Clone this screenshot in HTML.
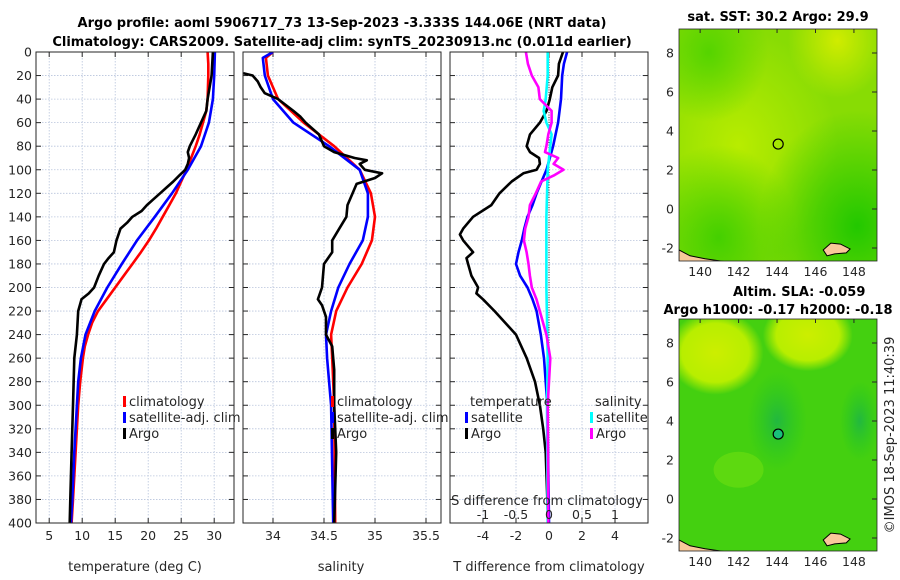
<!DOCTYPE html>
<html><head><meta charset="utf-8">
<style>
html,body{margin:0;padding:0;background:#fff;}
svg{display:block;font-family:"DejaVu Sans","Liberation Sans",sans-serif;}
.tick{font-size:12.5px;fill:#262626;}
.lbl{font-size:13px;fill:#262626;}
.ttl{font-size:13px;font-weight:bold;fill:#000;}
</style></head>
<body>
<svg id="fig" width="900" height="580" viewBox="0 0 900 580">
<text class="ttl" x="342" y="27" text-anchor="middle">Argo profile: aoml 5906717_73 13-Sep-2023 -3.333S 144.06E (NRT data)</text>
<text class="ttl" x="342" y="46" text-anchor="middle">Climatology: CARS2009. Satellite-adj clim: synTS_20230913.nc (0.011d earlier)</text>
<g id="layer"></g>
<text class="ttl" x="778" y="21" text-anchor="middle">sat. SST: 30.2 Argo: 29.9</text>
<text class="ttl" x="733" y="296" text-anchor="start">Altim. SLA: -0.059</text>
<text class="ttl" x="778" y="314" text-anchor="middle">Argo h1000: -0.17 h2000: -0.18</text>
<text class="lbl" x="0" y="0" transform="translate(894,435) rotate(-90)" text-anchor="middle">©IMOS 18-Sep-2023 11:40:39</text>
</svg>
<script>
// ---- data (depth in m) ----
const tempClimDepth = [0,10,20,40,50,60,70,80,90,100,110,120,130,140,150,160,170,180,190,200,210,220,230,240,250,260,280,300,320,340,360,380,400];
const tempClim      = [29,29.1,29.1,29,28.8,28.3,27.8,27.2,26.5,25.8,25.0,24.2,23.2,22.2,21.2,20.1,18.9,17.6,16.3,15.0,13.7,12.4,11.5,10.9,10.4,10.1,9.7,9.4,9.2,9.0,8.8,8.6,8.4];
const tempSatDepth  = [0,20,40,60,80,100,120,140,160,180,200,220,240,260,280,300,340,380,400];
const tempSat       = [30.1,30,29.8,29.2,28,26,23.6,21,18.3,16,13.8,11.9,10.5,9.8,9.4,9.2,8.8,8.5,8.3];
const tempArgoDepth = [0,20,30,40,50,60,70,80,85,90,95,100,105,110,115,120,125,130,135,140,145,150,160,170,175,180,190,200,205,210,220,240,260,300,340,380,400];
const tempArgo      = [29.8,29.6,29.3,29,28.8,28,27.2,26.3,26.0,26.2,26.0,25.6,24.7,23.8,22.8,21.8,20.8,19.8,19.0,17.6,16.8,15.8,15.2,14.8,14.0,13.3,12.5,11.8,11.0,9.9,9.4,9.2,8.8,8.6,8.4,8.2,8.1];
const salClimDepth  = [0,5,20,40,60,80,100,120,140,160,180,200,220,240,260,300,400];
const salClim       = [34.0,33.93,33.95,34.05,34.3,34.6,34.85,34.96,35.0,34.97,34.87,34.73,34.62,34.57,34.58,34.6,34.61];
const salSatDepth   = [0,5,20,40,60,80,100,120,140,160,180,200,220,240,260,300,400];
const salSat        = [34.0,33.9,33.92,34.0,34.2,34.55,34.85,34.93,34.93,34.88,34.75,34.64,34.57,34.52,34.53,34.57,34.59];
const salArgoDepth  = [18,20,25,30,35,40,50,55,60,70,80,85,90,92,95,100,103,107,112,120,130,140,150,160,170,180,200,210,215,225,240,250,270,300,340,400];
const salArgo       = [33.71,33.8,33.85,33.88,33.92,34.05,34.2,34.27,34.32,34.45,34.5,34.6,34.8,34.92,34.85,34.9,35.07,35.0,34.82,34.78,34.73,34.72,34.65,34.58,34.58,34.5,34.48,34.44,34.48,34.52,34.52,34.58,34.6,34.6,34.62,34.6];
const tdSatDepth    = [0,10,20,40,60,80,100,120,130,140,150,160,170,180,190,200,210,220,240,260,280,300,400];
const tdSat         = [1.1,0.9,0.8,0.73,0.55,0.25,-0.15,-0.75,-1.0,-1.3,-1.5,-1.65,-1.85,-2.0,-1.75,-1.3,-1.0,-0.75,-0.5,-0.3,-0.2,-0.1,0];
const tdArgoDepth   = [0,10,20,30,40,50,60,70,80,85,90,95,100,103,110,120,130,140,150,155,160,170,175,180,190,200,205,210,220,240,260,280,300,320,340,360,400];
const tdArgo        = [0.85,0.6,0.55,0.2,0.05,-0.15,-0.55,-1.15,-1.35,-1.15,-0.6,-0.55,-0.75,-1.55,-2.26,-3.0,-3.5,-4.6,-5.2,-5.4,-5.2,-4.6,-5.0,-4.9,-4.7,-4.3,-4.4,-4.0,-3.3,-2.0,-1.35,-0.85,-0.55,-0.35,-0.2,-0.15,-0.05];
const sdArgoDepth   = [0,10,20,30,40,50,60,70,80,85,90,95,100,105,110,120,130,140,150,160,170,180,190,200,210,220,240,260,280,300,400];
const sdArgo        = [-0.35,-0.32,-0.26,-0.16,-0.14,0.04,0.04,-0.01,-0.04,-0.06,0.14,0.07,0.22,0.07,-0.12,-0.2,-0.29,-0.31,-0.36,-0.38,-0.34,-0.31,-0.29,-0.26,-0.19,-0.14,-0.04,0.02,0,-0.02,-0.01];
const sdSatDepth    = [0,20,40,50,60,70,80,100,140,200,260,300,400];
const sdSat         = [-0.02,-0.02,-0.05,-0.08,-0.04,0.04,0.02,-0.02,-0.04,-0.04,-0.02,-0.03,-0.02];
const depthTicks = [0,20,40,60,80,100,120,140,160,180,200,220,240,260,280,300,320,340,360,380,400];
const tempTicks = [5,10,15,20,25,30];
const salTicks = [34,34.5,35,35.5];
const tdTicks = [-4,-2,0,2,4];
const sdTicks = [-1,-0.5,0,0.5,1];
const latTicks = [-2,0,2,4,6,8];
const lonTicks = [140,142,144,146,148];

const NS='http://www.w3.org/2000/svg';
const layer=document.getElementById('layer');
function mk(tag,attrs,parent){const e=document.createElementNS(NS,tag);for(const k in attrs)e.setAttribute(k,attrs[k]);(parent||layer).appendChild(e);return e;}
const Y0=52,Y1=523;
const yD=d=>Y0+(d/400)*(Y1-Y0);
function lin(d0,d1,r0,r1){return v=>r0+(v-d0)/(d1-d0)*(r1-r0);}

function panel(name,x0,x1,xs,ticks,fmt,showY){
  const g=mk('g',{});
  
  
  const cp=mk('clipPath',{id:'clip-'+name},g);
  mk('rect',{x:x0,y:Y0,width:x1-x0,height:Y1-Y0},cp);
  depthTicks.forEach(d=>{
    const l=mk('line',{x1:x0,x2:x1,y1:yD(d),y2:yD(d),stroke:'#b8c4dc','stroke-width':0.8,'stroke-dasharray':'1.5,1.5'},g);
    
    
    mk('line',{x1:x0,x2:x0+5,y1:yD(d),y2:yD(d),stroke:'#262626'},g);
    mk('line',{x1:x1-5,x2:x1,y1:yD(d),y2:yD(d),stroke:'#262626'},g);
    if(showY){const t=mk('text',{x:x0-4,y:yD(d)+4.5,'text-anchor':'end',class:'tick'},g);t.textContent=d;
      
      }
  });
  ticks.forEach(v=>{
    const x=xs(v);
    const l=mk('line',{x1:x,x2:x,y1:Y0,y2:Y1,stroke:'#b8c4dc','stroke-width':0.8,'stroke-dasharray':'1.5,1.5'},g);
    
    
    mk('line',{x1:x,x2:x,y1:Y1,y2:Y1-5,stroke:'#262626'},g);
    mk('line',{x1:x,x2:x,y1:Y0,y2:Y0+5,stroke:'#262626'},g);
    const t=mk('text',{x:x,y:Y1+17,'text-anchor':'middle',class:'tick'},g);t.textContent=fmt(v);
    
    
  });
  return g;
}
function frame(g,x0,x1){mk('rect',{x:x0,y:Y0,width:x1-x0,height:Y1-Y0,fill:'none',stroke:'#262626','stroke-width':1},g);}
function series(g,name,clipName,depths,vals,xs,color,w){
  const pts=depths.map((d,i)=>xs(vals[i]).toFixed(1)+','+yD(d).toFixed(1)).join(' ');
  const p=mk('polyline',{points:pts,fill:'none',stroke:color,'stroke-width':w||2.6,'stroke-linejoin':'round','clip-path':'url(#clip-'+clipName+')'},g);
  
  
}
function legendEntry(g,name,x,y,color,text){
  const e=mk('g',{},g);
  
  
  if(color) mk('rect',{x:x,y:y-10,width:3,height:11,fill:color},e);
  const t=mk('text',{x:x+6,y:y,class:'lbl'},e);t.textContent=text;
}

// Panel 1 temperature
const xT=lin(3,33,36,234);
const g1=panel('temperature-panel',36,234,xT,tempTicks,v=>v,true);
series(g1,'temp-climatology-line','temperature-panel',tempClimDepth,tempClim,xT,'#ff0000');
series(g1,'temp-satellite-line','temperature-panel',tempSatDepth,tempSat,xT,'#0000ff');
series(g1,'temp-argo-line','temperature-panel',tempArgoDepth,tempArgo,xT,'#000000');
frame(g1,36,234);
legendEntry(g1,'legend-climatology',123,406,'#ff0000','climatology');
legendEntry(g1,'legend-satellite-adj',123,422,'#0000ff','satellite-adj. clim');
legendEntry(g1,'legend-argo',123,438,'#000000','Argo');
{const t=mk('text',{x:135,y:571,'text-anchor':'middle',class:'lbl'},g1);t.textContent='temperature (deg C)';
}

// Panel 2 salinity
const xS=lin(33.706,35.647,243,441);
const g2=panel('salinity-panel',243,441,xS,salTicks,v=>v,false);
series(g2,'sal-climatology-line','salinity-panel',salClimDepth,salClim,xS,'#ff0000');
series(g2,'sal-satellite-line','salinity-panel',salSatDepth,salSat,xS,'#0000ff');
series(g2,'sal-argo-line','salinity-panel',salArgoDepth,salArgo,xS,'#000000');
frame(g2,243,441);
legendEntry(g2,'legend-climatology-2',331,406,'#ff0000','climatology');
legendEntry(g2,'legend-satellite-adj-2',331,422,'#0000ff','satellite-adj. clim');
legendEntry(g2,'legend-argo-2',331,438,'#000000','Argo');
{const t=mk('text',{x:341,y:571,'text-anchor':'middle',class:'lbl'},g2);t.textContent='salinity';
}

// Panel 3 differences
const xTD=lin(-6,6,450,648);
const xSD=lin(-1.5,1.5,450,648);
const g3=panel('difference-panel',450,648,xTD,tdTicks,v=>v,false);
mk('line',{x1:xTD(0),x2:xTD(0),y1:Y0,y2:Y1,stroke:'#333','stroke-width':1,'stroke-dasharray':'1,1.5'},g3);
series(g3,'tdiff-satellite-line','difference-panel',tdSatDepth,tdSat,xTD,'#0000ff');
series(g3,'tdiff-argo-line','difference-panel',tdArgoDepth,tdArgo,xTD,'#000000');
series(g3,'sdiff-satellite-line','difference-panel',sdSatDepth,sdSat,xSD,'#00ffff');
series(g3,'sdiff-argo-line','difference-panel',sdArgoDepth,sdArgo,xSD,'#ff00ff');
frame(g3,450,648);
{const t=mk('text',{x:470,y:406,class:'lbl'},g3);t.textContent='temperature';
}
{const t=mk('text',{x:595,y:406,class:'lbl'},g3);t.textContent='salinity';
}
legendEntry(g3,'legend-tdiff-satellite',465,422,'#0000ff','satellite');
legendEntry(g3,'legend-tdiff-argo',465,438,'#000000','Argo');
legendEntry(g3,'legend-sdiff-satellite',590,422,'#00ffff','satellite');
legendEntry(g3,'legend-sdiff-argo',590,438,'#ff00ff','Argo');
{const t=mk('text',{x:547,y:505,'text-anchor':'middle',class:'lbl'},g3);t.textContent='S difference from climatology';
}
sdTicks.forEach(v=>{const t=mk('text',{x:xSD(v),y:519,'text-anchor':'middle',class:'tick'},g3);t.textContent=v;
});
{const t=mk('text',{x:549,y:571,'text-anchor':'middle',class:'lbl'},g3);t.textContent='T difference from climatology';
}

// Maps
const lonX=lin(138.9,149.2,679,877);
function map(name,y0,y1,yLat8,yLat0,fillFn,dotColor){
  const g=mk('g',{});
  
  
  const latY=lin(0,8,yLat0,yLat8);
  const cp=mk('clipPath',{id:'clip-'+name},g);
  mk('rect',{x:679,y:y0,width:198,height:y1-y0},cp);
  const inner=mk('g',{'clip-path':'url(#clip-'+name+')'},g);
  fillFn(inner,latY);
  const coast=mk('path',{d:`M679,${latY(-2.1)} L690,${latY(-2.4)} L705,${latY(-2.55)} L725,${latY(-2.7)} L740,${latY(-2.9)} L679,${latY(-3)} Z`,fill:'#f9c99a',stroke:'#000','stroke-width':1},inner);
  
  
  const isl=mk('path',{d:`M${lonX(146.4)},${latY(-2.1)} L${lonX(146.8)},${latY(-1.75)} L${lonX(147.3)},${latY(-1.8)} L${lonX(147.8)},${latY(-2.05)} L${lonX(147.6)},${latY(-2.25)} L${lonX(147.0)},${latY(-2.3)} L${lonX(146.6)},${latY(-2.4)} Z`,fill:'#f9c99a',stroke:'#000','stroke-width':1},inner);
  
  
  const c=mk('circle',{cx:lonX(144.06),cy:latY(3.33),r:5,fill:dotColor,stroke:'#000','stroke-width':1.2},g);
  
  
  mk('rect',{x:679,y:y0,width:198,height:y1-y0,fill:'none',stroke:'#262626','stroke-width':0.8},g);
  latTicks.forEach(v=>{const y=latY(v);mk('line',{x1:872,x2:877,y1:y,y2:y,stroke:'#262626'},g);
    const t=mk('text',{x:674,y:y+4.5,'text-anchor':'end',class:'tick'},g);t.textContent=v;
    });
  lonTicks.forEach(v=>{const x=lonX(v);mk('line',{x1:x,x2:x,y1:y0,y2:y0+4,stroke:'#262626'},g);
    const t=mk('text',{x:x,y:y1+15,'text-anchor':'middle',class:'tick'},g);t.textContent=v;
    });
}
const defs=mk('defs',{});
defs.innerHTML=`
<radialGradient id="sstY" cx="0.3" cy="0.5" r="0.5"><stop offset="0" stop-color="#b8ec00"/><stop offset="1" stop-color="#b8ec00" stop-opacity="0"/></radialGradient>
<radialGradient id="sstG" cx="0.9" cy="0.85" r="0.5"><stop offset="0" stop-color="#22c800"/><stop offset="1" stop-color="#22c800" stop-opacity="0"/></radialGradient>
<radialGradient id="sstG2" cx="0.2" cy="0.9" r="0.4"><stop offset="0" stop-color="#44d000"/><stop offset="1" stop-color="#44d000" stop-opacity="0"/></radialGradient>
<radialGradient id="sstG3" cx="0.15" cy="0.1" r="0.3"><stop offset="0" stop-color="#55d400"/><stop offset="1" stop-color="#55d400" stop-opacity="0"/></radialGradient>
<radialGradient id="sstY2" cx="0.8" cy="0.05" r="0.25"><stop offset="0" stop-color="#d0ec00"/><stop offset="1" stop-color="#d0ec00" stop-opacity="0"/></radialGradient>
<radialGradient id="slaY1" cx="0.5" cy="0.5" r="0.5"><stop offset="0" stop-color="#ccee00"/><stop offset="0.7" stop-color="#b8ee00"/><stop offset="1" stop-color="#b8ee00" stop-opacity="0"/></radialGradient>
<radialGradient id="slaD" cx="0.5" cy="0.5" r="0.5"><stop offset="0" stop-color="#22b840"/><stop offset="1" stop-color="#22c820" stop-opacity="0"/></radialGradient>`;
map('sst-map',29,261,53,209,(g,latY)=>{
  mk('rect',{x:679,y:29,width:198,height:232,fill:'#88dc04'},g);
  mk('rect',{x:679,y:29,width:198,height:232,fill:'url(#sstY)'},g);
  mk('rect',{x:679,y:29,width:198,height:232,fill:'url(#sstG)'},g);
  mk('rect',{x:679,y:29,width:198,height:232,fill:'url(#sstG2)'},g);
  mk('rect',{x:679,y:29,width:198,height:232,fill:'url(#sstG3)'},g);
  mk('rect',{x:679,y:29,width:198,height:232,fill:'url(#sstY2)'},g);
},'none');
map('sla-map',319,551,343,499,(g,latY)=>{
  mk('rect',{x:679,y:319,width:198,height:232,fill:'#44d010'},g);
  mk('ellipse',{cx:lonX(140.8),cy:latY(7.5),rx:48,ry:42,fill:'url(#slaY1)'},g);
  mk('ellipse',{cx:lonX(145.6),cy:latY(8.4),rx:45,ry:36,fill:'url(#slaY1)'},g);
  mk('ellipse',{cx:lonX(144),cy:latY(4),rx:30,ry:50,fill:'url(#slaD)'},g);
  mk('ellipse',{cx:lonX(148.3),cy:latY(4),rx:20,ry:40,fill:'url(#slaD)'},g);
  mk('ellipse',{cx:lonX(142),cy:latY(1.5),rx:25,ry:18,fill:'#6ee010',opacity:0.6},g);
},'#19c07a');
</script>
</body></html>
